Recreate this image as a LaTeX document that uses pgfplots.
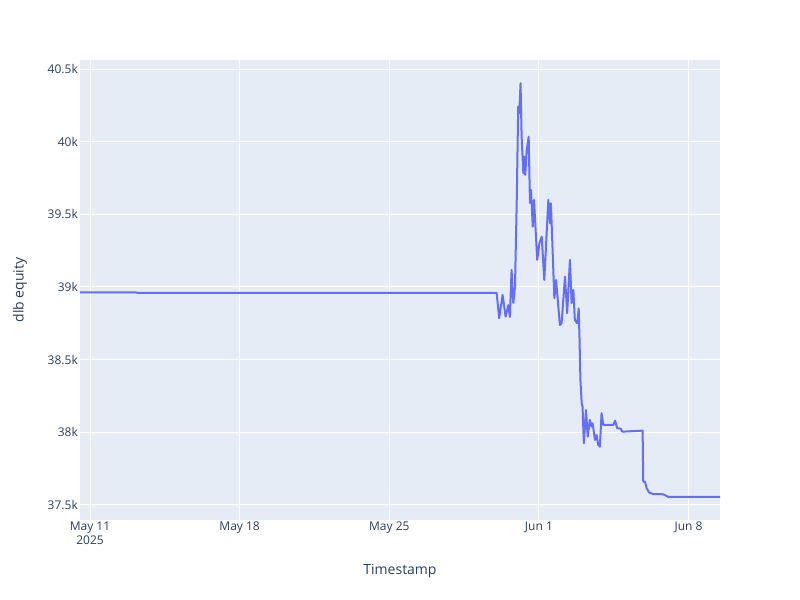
\documentclass[border=0pt]{standalone}
\usepackage{pgfplots}
\pgfplotsset{compat=1.18}
\usepackage{fontspec}
\setmainfont{Open Sans}
\definecolor{bgc}{HTML}{E5ECF6}
\definecolor{txt}{HTML}{2A3F5F}
\definecolor{line}{HTML}{636EFA}
\begin{document}
\begin{tikzpicture}
\begin{axis}[
  at={(0,0)}, anchor=south west,
  scale only axis, width=640bp, height=460bp,
  xmin=-0.468, xmax=29.47,
  ymin=37396, ymax=40562,
  scaled y ticks=false, scaled x ticks=false,
  axis background/.style={fill=bgc},
  axis line style={draw=none},
  major tick length=0pt,
  grid=major,
  major grid style={white, line width=1bp},
  xtick={0,7,14,21,28},
  xticklabels={{May 11\\2025},{May 18},{May 25},{Jun 1},{Jun 8}},
  ytick={37500,38000,38500,39000,39500,40000,40500},
  yticklabels={37.5k,38k,38.5k,39k,39.5k,40k,40.5k},
  xticklabel style={font=\fontsize{12bp}{14bp}\selectfont, text=txt, align=center, inner sep=2bp},
  yticklabel style={font=\fontsize{12bp}{14bp}\selectfont, text=txt, inner sep=2bp},
  xlabel={Timestamp},
  ylabel={dlb equity},
  xlabel style={at={(axis description cs:0.5,-0.1109)}, anchor=center, font=\fontsize{14bp}{16bp}\selectfont, text=txt},
  ylabel style={at={(axis description cs:-0.09375,0.5)}, anchor=center, font=\fontsize{14bp}{16bp}\selectfont, text=txt},
]
\addplot[line, line width=2bp, mark=none, line join=round] coordinates {
(-0.468,38962) (2.15,38962) (2.2,38960) (19.02,38960)
(19.14,38785) (19.30,38945) (19.44,38796) (19.57,38876) (19.64,38794)
(19.72,39117) (19.80,38890) (19.88,39002) (19.96,39578) (20.03,40241)
(20.08,40197) (20.14,40402) (20.19,40034) (20.27,39783) (20.31,39897)
(20.36,39771) (20.43,39943) (20.52,40034) (20.58,39578) (20.63,39668)
(20.71,39415) (20.77,39599) (20.92,39186) (21.02,39301) (21.13,39346)
(21.25,39048) (21.44,39599) (21.52,39438) (21.56,39576) (21.72,38922)
(21.80,39048) (21.88,38911) (21.98,38738) (22.06,38750) (22.22,39071)
(22.32,38819) (22.45,39186) (22.53,38888) (22.61,38979) (22.68,38773)
(22.79,38750) (22.86,38853) (22.90,38635) (22.94,38360) (23.00,38200)
(23.04,38176) (23.10,37924) (23.20,38153) (23.28,37970) (23.38,38085)
(23.46,38039) (23.51,38062) (23.62,37947) (23.70,37981) (23.77,37913)
(23.85,37901) (23.93,38131) (24.01,38050) (24.48,38050) (24.56,38080)
(24.66,38028) (24.82,38025) (24.90,38004) (25.85,38011) (25.88,37660)
(25.96,37660) (26.04,37615) (26.16,37584) (26.35,37575) (26.81,37573)
(27.05,37555) (29.47,37555)
};
\end{axis}
\path[use as bounding box] (-80bp,-80bp) rectangle (720bp,520bp);
\end{tikzpicture}
\end{document}
